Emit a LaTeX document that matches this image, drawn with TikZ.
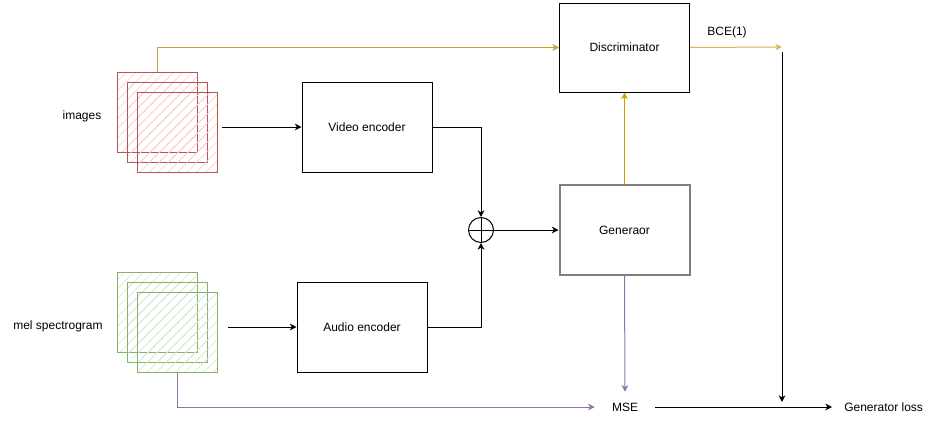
\documentclass[tikz,border=0pt]{standalone}
\usepackage{fontspec}
\setmainfont{Liberation Sans}
\usetikzlibrary{arrows.meta,patterns.meta}
\definecolor{redb}{HTML}{B85450}
\definecolor{redf}{HTML}{F8D0CE}
\definecolor{greenb}{HTML}{82B366}
\definecolor{greenf}{HTML}{D5E8D4}
\definecolor{gold}{HTML}{D79B00}
\definecolor{goldl}{HTML}{D6B656}
\definecolor{goldm}{HTML}{C9A040}
\definecolor{purp}{HTML}{9673A6}
\definecolor{grayb}{HTML}{7F7F7F}
\tikzset{
  every node/.style={font=\fontsize{9}{11}\selectfont},
  box/.style={draw=black, line width=0.75pt, minimum width=97.5pt, minimum height=67.5pt, inner sep=0pt},
  redsq/.style={draw=redb, line width=0.75pt, minimum size=60pt, inner sep=0pt,
     pattern={Lines[angle=45,distance=5pt,line width=0.5pt]}, pattern color=redf},
  greensq/.style={draw=greenb, line width=0.75pt, minimum size=60pt, inner sep=0pt,
     pattern={Lines[angle=45,distance=5pt,line width=0.5pt]}, pattern color=greenf},
  arr/.style={line width=0.75pt, -{Stealth[length=5pt,width=5pt,inset=1.5pt]}},
  lbl/.style={inner sep=0pt}
}
\begin{document}
\begin{tikzpicture}[x=0.75pt,y=-0.75pt]
\useasboundingbox (0,0) rectangle (945,425);
% image stacks
\node[redsq] (im1) at (157,112) {};
\node[redsq] (im2) at (167,122) {};
\node[redsq] (im3) at (177,132) {};
\node[greensq] (me1) at (157,312) {};
\node[greensq] (me2) at (167,322) {};
\node[greensq] (me3) at (177,332) {};
\node[lbl] (imglbl) at (82,116) {images};
\node[lbl] (mellbl) at (58,326) {mel spectrogram};
% boxes
\node[box] (vid) at (367,127) {Video encoder};
\node[box] (aud) at (362,327) {Audio encoder};
\node[box, minimum height=66.75pt] (disc) at (624.5,47.5) {Discriminator};
\node[box, draw=grayb, line width=1.5pt] (gen) at (624.5,230) {Generaor};
\node[draw=black, line width=0.75pt, circle, minimum size=18.75pt, inner sep=0pt] (plus) at (481,230) {};
\draw[line width=0.75pt] (plus.north) -- (plus.south) (plus.west) -- (plus.east);
\node[minimum width=45pt, minimum height=22.5pt, inner sep=0pt] (mse) at (625,407) {MSE};
\node[inner xsep=9pt, inner ysep=0pt, minimum height=10pt, anchor=west] (loss) at (832,407) {Generator loss};
\node[lbl] (bce) at (727,32) {BCE(1)};
% coordinates
\coordinate (imout) at (222,127);
\coordinate (melout) at (228,327);
\coordinate (bceend) at (782,47);
\coordinate (bcetop) at (782,52);
\coordinate (lossin) at (782,402);
% connectors
\draw[arr, goldm, line width=0.6pt] (im1.north) |- (disc.west);
\draw[arr] (imout) -- (vid.west);
\draw[arr] (melout) -- (aud.west);
\draw[arr] (vid.east) -| (plus.north);
\draw[arr] (aud.east) -| (plus.south);
\draw[arr] (plus.east) -- (gen.west);
\draw[arr, gold] (gen.north) -- (disc.south);
\draw[arr, goldl] (disc.east) -- (bceend);
\draw[arr] (bcetop) -- (lossin);
\draw[arr, purp] (gen.south) -- (mse.north);
\draw[arr, purp] (me3.south) |- (mse.west);
\draw[arr] (mse.east) -- (mse.east -| loss.west);
\end{tikzpicture}
\end{document}
